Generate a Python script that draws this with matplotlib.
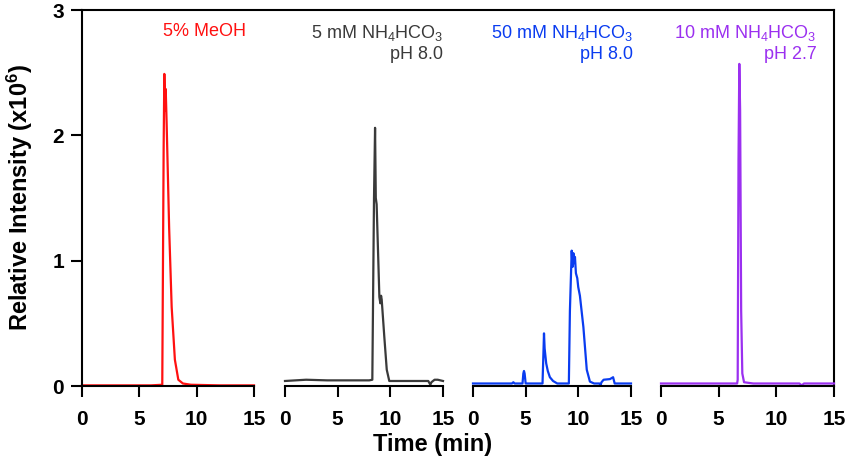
import matplotlib
matplotlib.use('Agg')
import matplotlib.pyplot as plt

plt.rcParams['font.family'] = ['Liberation Sans', 'DejaVu Sans']
plt.rcParams['mathtext.default'] = 'regular'

# chromatograms (time in min, intensity in 1e6 counts)
t_meoh = [0, 3, 6, 7.0, 7.12, 7.18, 7.24, 7.3, 7.38, 7.6, 7.82, 8.1, 8.4, 8.8, 9.5, 12, 15]
i_meoh = [0.005, 0.005, 0.005, 0.01, 1.9, 2.49, 2.2, 2.37, 2.1, 1.26, 0.63, 0.21, 0.05, 0.02, 0.01, 0.005, 0.005]

t_5mm = [0, 1, 2, 4, 6, 8.0, 8.29, 8.45, 8.55, 8.62, 8.7, 8.96, 9.05, 9.12, 9.18, 9.43, 9.66, 9.9,
         11, 13, 13.6, 13.8, 13.9, 14.2, 14.5, 15]
i_5mm = [0.04, 0.045, 0.05, 0.045, 0.045, 0.045, 0.05, 1.5, 2.06, 1.5, 1.45, 0.71, 0.66, 0.72, 0.69,
         0.39, 0.13, 0.04, 0.04, 0.04, 0.04, 0.01, 0.03, 0.05, 0.05, 0.04]

t_50mm = [0, 3.7, 3.83, 3.95, 4.7, 4.78, 4.84, 4.9, 5.0, 6.6, 6.7, 6.74, 6.8, 6.95, 7.1, 7.3, 7.6, 8.0,
          9.1, 9.2, 9.37, 9.45, 9.53, 9.6, 9.68, 9.77, 9.9, 9.99, 10.15, 10.48, 10.8, 11.1, 11.5,
          12.0, 12.1, 12.2, 12.4, 13.0, 13.3, 13.45, 14, 15]
i_50mm = [0.02, 0.02, 0.03, 0.02, 0.02, 0.1, 0.12, 0.1, 0.02, 0.02, 0.3, 0.42, 0.3, 0.18, 0.12, 0.07,
          0.04, 0.02, 0.02, 0.6, 1.08, 0.95, 1.06, 0.98, 1.03, 0.9, 0.86, 0.79, 0.72, 0.47, 0.13,
          0.035, 0.02, 0.02, 0.005, 0.03, 0.05, 0.055, 0.07, 0.02, 0.02, 0.02]

t_10mm = [0, 3, 6, 6.6, 6.65, 6.72, 6.79, 6.86, 6.95, 7.05, 7.2, 8, 12, 12.2, 12.4, 15]
i_10mm = [0.02, 0.02, 0.02, 0.02, 0.05, 1.8, 2.57, 2.2, 0.6, 0.1, 0.03, 0.02, 0.02, 0.005, 0.02, 0.02]

labels = ['5% MeOH',
          '5 mM NH$_4$HCO$_3$\npH 8.0',
          '50 mM NH$_4$HCO$_3$\npH 8.0',
          '10 mM NH$_4$HCO$_3$\npH 2.7']
colors = ['#ff1010', '#3a3a3a', '#0a3cf0', '#9b30f0']
label_x = [14.3, 15.0, 15.2, 13.5]
traces = [(t_meoh, i_meoh), (t_5mm, i_5mm), (t_50mm, i_50mm), (t_10mm, i_10mm)]

W, H = 850, 462
top_px, bot_px = 10, 386
panels_px = [(82, 254), (285, 443), (473, 631), (661, 834)]
b = (H - bot_px) / H
h = (bot_px - top_px) / H

fig = plt.figure(figsize=(8.5, 4.62), dpi=100)

# outer frame: top and right lines only
frame = fig.add_axes([82 / W, b, (834 - 82) / W, h])
frame.set_xticks([])
frame.set_yticks([])
frame.spines['bottom'].set_visible(False)
frame.spines['left'].set_visible(False)
for s in ['top', 'right']:
    frame.spines[s].set_linewidth(1.5)
frame.patch.set_visible(False)

for k, ((x0, x1), (t, y)) in enumerate(zip(panels_px, traces)):
    ax = fig.add_axes([x0 / W, b, (x1 - x0) / W, h])
    ax.patch.set_visible(False)
    ax.plot(t, y, color=colors[k], lw=1.6, clip_on=False)
    ax.set_xlim(0, 15)
    ax.set_ylim(0, 3)
    ax.set_xticks([0, 5, 10, 15])
    ax.spines['top'].set_visible(False)
    ax.spines['right'].set_visible(False)
    ax.spines['bottom'].set_linewidth(1.5)
    ax.tick_params(axis='x', direction='out', length=8, width=1.5, pad=9, labelsize=15)
    if k == 0:
        ax.set_yticks([0, 1, 2, 3])
        ax.spines['left'].set_linewidth(1.5)
        ax.tick_params(axis='y', direction='out', length=8, width=1.5, pad=5, labelsize=15)
    else:
        ax.set_yticks([])
        ax.spines['left'].set_visible(False)
    for lab in ax.get_xticklabels() + ax.get_yticklabels():
        lab.set_fontweight('bold')
    ax.text(label_x[k], 2.9, labels[k], color=colors[k], fontsize=13,
            ha='right', va='top', linespacing=1.3, multialignment='right')

fig.text(433 / W, 17 / H, 'Time (min)', ha='center', va='center',
         fontsize=17, fontweight='bold')
fig.text(20 / W, (H - 198) / H, 'Relative Intensity (x10$^6$)', ha='center', va='center',
         rotation=90, fontsize=17, fontweight='bold')

fig.savefig('out.png', dpi=100)
